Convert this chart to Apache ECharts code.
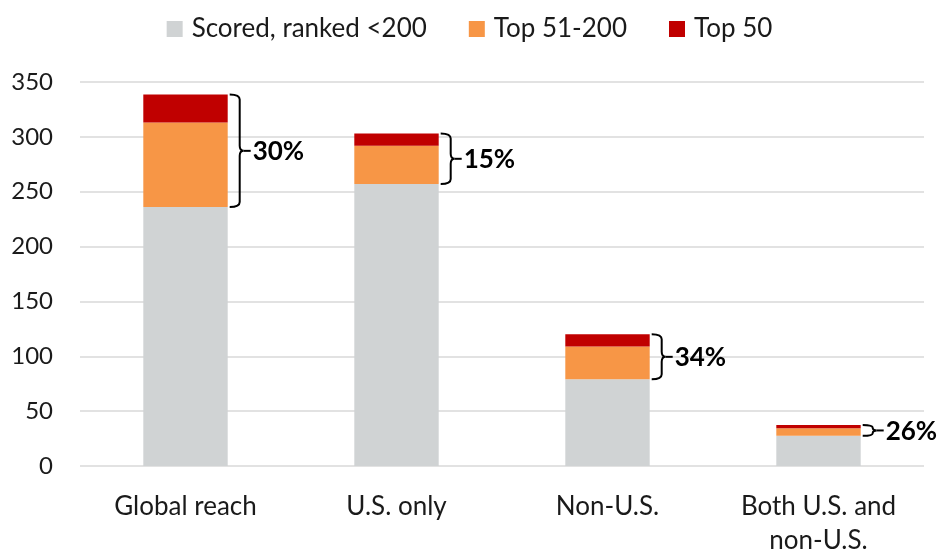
<!DOCTYPE html>
<html>
<head>
<meta charset="utf-8">
<script src="https://cdn.jsdelivr.net/npm/echarts@6/dist/echarts.min.js"></script>
<style>
  html, body { margin: 0; padding: 0; background: #fff; }
  #chart { width: 939px; height: 552px; }
</style>
</head>
<body>
<div id="chart"></div>
<script>
// chart values
const categories = ['Global reach', 'U.S. only', 'Non-U.S.', 'Both U.S. and\nnon-U.S.'];
const scored = [236, 257, 79, 27.5];
const top51 = [77, 35, 30, 7];
const top50 = [25.5, 11, 11, 2.8];
const shareLabels = ['30%', '15%', '34%', '26%'];
const yTicks = [0, 50, 100, 150, 200, 250, 300, 350];

const FONT = 'Lato';

// bracket spans from top of grey part to top of the stack
const bracketData = categories.map(function (c, i) {
  return [i, scored[i], scored[i] + top51[i] + top50[i]];
});

function renderBracket(params, api) {
  const i = api.value(0);
  const lo = api.coord([i, api.value(1)]);
  const hi = api.coord([i, api.value(2)]);
  const bw = api.size([1, 0])[0] * 0.4;
  const edge = lo[0] + bw / 2;
  const x0 = edge + 2;
  const x1 = edge + 12;
  const yTop = hi[1], yBot = lo[1];
  const yMid = (yTop + yBot) / 2;
  const r = Math.min(5, (yBot - yTop) / 4);
  const tip = edge + 16;
  const d = 'M' + x0 + ' ' + yTop +
    ' Q' + x1 + ' ' + yTop + ' ' + x1 + ' ' + (yTop + r) +
    ' L' + x1 + ' ' + (yMid - r) +
    ' Q' + x1 + ' ' + yMid + ' ' + tip + ' ' + yMid +
    ' Q' + x1 + ' ' + yMid + ' ' + x1 + ' ' + (yMid + r) +
    ' L' + x1 + ' ' + (yBot - r) +
    ' Q' + x1 + ' ' + yBot + ' ' + x0 + ' ' + yBot;
  return {
    type: 'group',
    children: [
      { type: 'path', shape: { pathData: d }, style: { stroke: '#000', fill: 'none', lineWidth: 2 } },
      { type: 'line', shape: { x1: tip, y1: yMid, x2: edge + 23, y2: yMid }, style: { stroke: '#000', lineWidth: 2 } },
      {
        type: 'text',
        style: {
          x: edge + 25, y: yMid + 1, text: shareLabels[params.dataIndex],
          fill: '#000', font: 'bold 26px ' + FONT,
          align: 'left', verticalAlign: 'middle'
        }
      }
    ]
  };
}

const chart = echarts.init(document.getElementById('chart'));
chart.setOption({
  backgroundColor: '#fff',
  animation: false,
  textStyle: { fontFamily: FONT },
  legend: {
    top: 11,
    left: 'center',
    data: ['Scored, ranked <200', 'Top 51-200', 'Top 50'],
    icon: 'rect',
    itemWidth: 16,
    itemHeight: 16,
    itemGap: 42,
    textStyle: { fontSize: 26, color: '#1a1a1a', fontFamily: FONT, padding: [0, 0, 0, 4] }
  },
  grid: { left: 80, right: 15, top: 82, bottom: 86, containLabel: false, outerBoundsMode: 'none' },
  xAxis: {
    type: 'category',
    data: categories,
    axisLine: { show: false },
    axisTick: { show: false },
    axisLabel: { fontSize: 26, color: '#1a1a1a', margin: 24, lineHeight: 34, interval: 0 }
  },
  yAxis: {
    type: 'value',
    min: yTicks[0],
    max: yTicks[yTicks.length - 1],
    interval: 50,
    axisLine: { show: false },
    axisTick: { show: false },
    splitLine: { lineStyle: { color: '#d9d9d9', width: 1.5 } },
    axisLabel: { fontSize: 24, color: '#1a1a1a', margin: 27 }
  },
  series: [
    { name: 'Scored, ranked <200', type: 'bar', stack: 'a', barWidth: '40%', data: scored, itemStyle: { color: '#d0d3d4' } },
    { name: 'Top 51-200', type: 'bar', stack: 'a', data: top51, itemStyle: { color: '#f79646' } },
    { name: 'Top 50', type: 'bar', stack: 'a', data: top50, itemStyle: { color: '#c00000' } },
    { type: 'custom', renderItem: renderBracket, data: bracketData, z: 10, silent: true }
  ]
});
</script>
</body>
</html>
